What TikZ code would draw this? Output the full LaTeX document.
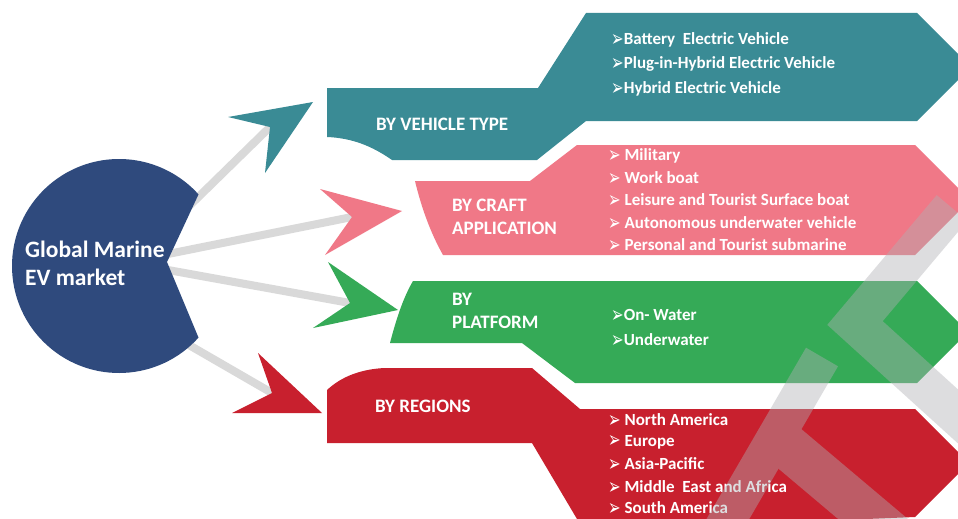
\documentclass[tikz,border=0pt]{standalone}
\usepackage{fontspec}
\setmainfont{Carlito}
\newfontfamily\symfont{DejaVu Sans}

\definecolor{vtteal}{RGB}{58,139,149}
\definecolor{capink}{RGB}{240,120,135}
\definecolor{plgreen}{RGB}{53,170,87}
\definecolor{rgred}{RGB}{200,32,46}
\definecolor{mknavy}{RGB}{47,74,125}
\definecolor{lnegray}{RGB}{217,217,217}
\definecolor{wmgray}{RGB}{175,176,180}

\newcommand{\bul}{{\symfont\fontsize{15}{15}\selectfont\smash{\raisebox{-1.5pt}{\scalebox{1}[1.5]{➢}}}}}

\begin{document}
\begin{tikzpicture}[x=1pt,y=-1pt,
    head/.style={text=white,anchor=west,align=left,inner sep=0pt,
        font=\bfseries\fontsize{19}{23}\selectfont},
    item/.style={text=white,anchor=west,inner sep=0pt,
        font=\bfseries\fontsize{17}{20}\selectfont},
    link/.style={line width=8pt,draw=lnegray},
    wm/.style={draw=wmgray}]

        \useasboundingbox (0,0) rectangle (958,519) ;
        \fill[white] (0,0) rectangle (958,519) ;
        \clip (0,0) rectangle (958,519) ;

        % start and end points of the links
        \coordinate (s1) at (180,215) ;
        \coordinate (s2) at (168,254) ;
        \coordinate (s3) at (168,270) ;
        \coordinate (s4) at (163,330) ;
        \coordinate (n1) at (270,127) ;
        \coordinate (n2) at (352,217) ;
        \coordinate (n3) at (350,303) ;
        \coordinate (n4) at (272,393) ;

        \draw[link] (s1) -- (n1) ;
        \draw[link] (s2) -- (n2) ;
        \draw[link] (s3) -- (n3) ;
        \draw[link] (s4) -- (n4) ;

        % market
        \fill[mknavy] (167,262) -- ([shift={(119,266)}]42:107)
            arc[start angle=42,end angle=318,radius=107] -- cycle ;
        \node[text=white,anchor=west,align=left,inner sep=0pt,
            font=\bfseries\fontsize{23.5}{28}\selectfont] (gm) at (25,263)
            {Global Marine\\EV market} ;

        % darts
        \fill[vtteal] (313,102) -- (228,117) -- (n1) -- (265,173) -- cycle ;
        \fill[capink] (402,211) -- (320,189) -- (n2) -- (325,255) -- cycle ;
        \fill[plgreen] (398,310) -- (328,262) -- (n3) -- (313,328) -- cycle ;
        \fill[rgred] (322,413) -- (258,353) -- (n4) -- (232,413) -- cycle ;

        % vehicle type
        \fill[vtteal] (327,88) -- (538,88) -- (586,13) -- (917,13) -- (971,67)
            -- (917,121) -- (586,121) -- (537,160) -- (392,160)
            .. controls (372,146) and (352,138) .. (327,137) -- cycle ;
        \node[head] (vt) at (376,124) {BY VEHICLE TYPE} ;
        \node[item] (vt1) at (611,40) {\bul Battery\ \ Electric Vehicle} ;
        \node[item] (vt2) at (611,64) {\bul Plug-in-Hybrid Electric Vehicle} ;
        \node[item] (vt3) at (611,89) {\bul Hybrid Electric Vehicle} ;

        % craft application
        \fill[capink] (415,181) -- (530,181) -- (577,145) -- (915,145) -- (970,200)
            -- (915,255) -- (443,255)
            .. controls (430,232) and (421,206) .. (415,181) -- cycle ;
        \node[head] (ca) at (452,217) {BY CRAFT\\APPLICATION} ;
        \node[item] (ca1) at (608,156) {\bul\ Military} ;
        \node[item] (ca2) at (608,178) {\bul\ Work boat} ;
        \node[item] (ca3) at (608,200) {\bul\ Leisure and Tourist Surface boat} ;
        \node[item] (ca4) at (608,223) {\bul\ Autonomous underwater vehicle} ;
        \node[item] (ca5) at (608,245) {\bul\ Personal and Tourist submarine} ;

        % platform
        \fill[plgreen] (413,281) -- (917,281) -- (968,332) -- (917,383) -- (575,383)
            -- (522,343) -- (390,343)
            .. controls (396,320) and (403,298) .. (413,281) -- cycle ;
        \node[head] (pf) at (452,311) {BY\\PLATFORM} ;
        \node[item] (pf1) at (611,315) {\bul On- Water} ;
        \node[item] (pf2) at (611,340) {\bul Underwater} ;

        % regions
        \fill[rgred] (327,443) -- (327,390) .. controls (342,376) and (362,369) .. (385,368)
            -- (532,368) -- (580,409) -- (915,409) -- (969,463) -- (915,517)
            -- (600,530) -- (577,519) -- (532,443) -- cycle ;
        \node[head] (rg) at (375,406) {BY REGIONS} ;
        \node[item] (rg1) at (608,420) {\bul\ North America} ;
        \node[item] (rg2) at (608,442) {\bul\ Europe} ;
        \node[item] (rg3) at (608,464) {\bul\ Asia-Pacific} ;
        \node[item] (rg4) at (608,487) {\bul\ Middle\ \ East and Africa} ;
        \node[item] (rg5) at (608,508) {\bul\ South America} ;

        % watermark
        \begin{scope}[transparency group,opacity=.42]
            \draw[wm,line width=37pt] (700,567) -- (822,357) ;
            \draw[wm,line width=45pt] (777,438) -- (975,605) ;
            \draw[wm,line width=40pt,miter limit=10] (952,208) -- (855,323) -- (995,450) ;
        \end{scope}

    \end{tikzpicture}
\end{document}
